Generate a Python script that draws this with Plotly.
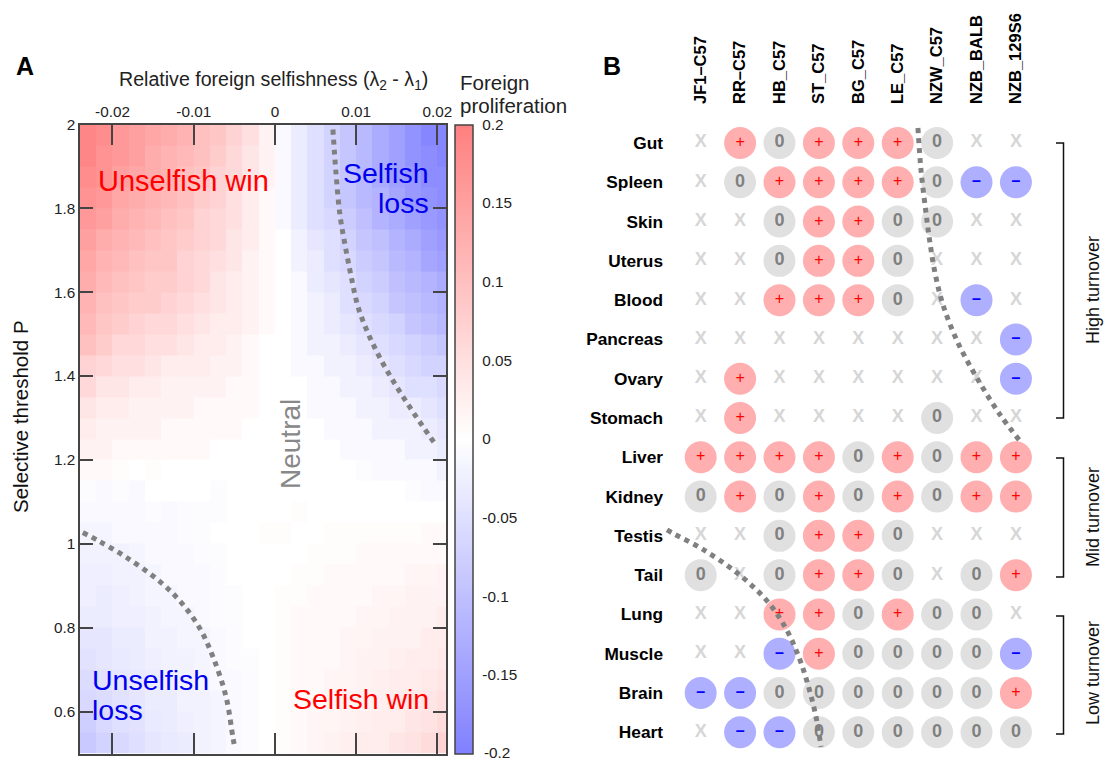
import plotly.graph_objects as go

W, H = 1106, 760
FONT = "Liberation Sans"

# Panel A data
lambda_edges = [-0.024, -0.022, -0.020, -0.018, -0.016, -0.014, -0.012, -0.010, -0.008, -0.006, -0.004, -0.002,
                0.0, 0.002, 0.004, 0.006, 0.008, 0.010, 0.012, 0.014, 0.016, 0.018, 0.020, 0.02106]
threshold_centers = [1.975, 1.925, 1.875, 1.825, 1.775, 1.725, 1.675, 1.625, 1.575, 1.525,
                     1.475, 1.425, 1.375, 1.325, 1.275, 1.225, 1.175, 1.125, 1.075, 1.025,
                     0.975, 0.925, 0.875, 0.825, 0.775, 0.725, 0.675, 0.625, 0.575, 0.525]
proliferation = [
    [.19, .18, .16, .15, .14, .13, .12, .10, .09, .07, .05, .02, -.01, -.03, -.05, -.07, -.09, -.11, -.13, -.15, -.17, -.19, -.19],
    [.19, .17, .16, .15, .13, .12, .11, .10, .08, .06, .04, .02, -.01, -.03, -.05, -.07, -.09, -.11, -.13, -.15, -.17, -.18, -.19],
    [.18, .17, .15, .14, .13, .12, .10, .09, .07, .06, .04, .02, -.01, -.03, -.05, -.07, -.09, -.11, -.13, -.15, -.16, -.18, -.18],
    [.17, .16, .14, .13, .12, .11, .10, .08, .07, .05, .03, .01, -.01, -.03, -.05, -.07, -.09, -.11, -.12, -.14, -.16, -.17, -.18],
    [.16, .15, .13, .12, .11, .10, .09, .07, .06, .05, .03, .01, -.01, -.03, -.05, -.06, -.08, -.10, -.12, -.13, -.15, -.16, -.17],
    [.15, .13, .12, .11, .10, .09, .08, .07, .06, .04, .03, .01, 0, -.02, -.04, -.05, -.07, -.09, -.10, -.12, -.13, -.15, -.16],
    [.14, .12, .11, .10, .09, .09, .07, .06, .05, .04, .02, .01, 0, -.02, -.03, -.05, -.06, -.08, -.09, -.11, -.12, -.14, -.15],
    [.13, .11, .10, .09, .08, .08, .07, .06, .04, .03, .02, .01, 0, -.01, -.03, -.04, -.05, -.07, -.08, -.10, -.11, -.12, -.13],
    [.12, .10, .09, .08, .08, .07, .06, .05, .04, .03, .02, .01, 0, -.01, -.02, -.03, -.05, -.06, -.07, -.09, -.10, -.11, -.12],
    [.11, .09, .08, .07, .06, .06, .05, .04, .03, .03, .02, .01, 0, -.01, -.02, -.03, -.04, -.05, -.06, -.07, -.09, -.10, -.11],
    [.10, .08, .06, .06, .05, .05, .04, .03, .03, .02, .01, 0, 0, -.01, -.02, -.02, -.03, -.04, -.05, -.06, -.07, -.08, -.09],
    [.07, .06, .05, .05, .04, .03, .03, .03, .02, .02, .01, 0, 0, -.01, -.01, -.02, -.02, -.03, -.04, -.05, -.06, -.07, -.07],
    [.06, .04, .04, .03, .03, .02, .02, .02, .02, .01, .01, 0, 0, 0, -.01, -.01, -.02, -.02, -.03, -.04, -.05, -.05, -.06],
    [.04, .03, .03, .02, .02, .02, .02, .01, .01, .01, .01, 0, 0, 0, -.01, -.01, -.01, -.02, -.02, -.03, -.03, -.04, -.05],
    [.03, .02, .02, .02, .02, .01, .01, .01, .01, .01, 0, 0, 0, 0, 0, -.01, -.01, -.01, -.02, -.02, -.02, -.03, -.04],
    [.02, .02, .01, .01, .01, .01, .01, .01, 0, 0, 0, 0, 0, 0, 0, 0, -.01, -.01, -.01, -.01, -.02, -.02, -.03],
    [.01, .01, .005, 0, .005, 0, 0, 0, 0, 0, 0, 0, 0, 0, 0, 0, 0, -.005, -.01, -.01, -.01, -.01, -.02],
    [-.005, -.01, -.005, -.01, 0, 0, 0, 0, -.005, 0, 0, 0, 0, 0, 0, 0, 0, 0, 0, 0, -.005, -.01, -.01],
    [-.01, -.01, -.01, -.01, -.005, -.01, -.005, -.005, -.005, 0, 0, 0, 0, .005, 0, 0, 0, 0, 0, 0, 0, 0, 0],
    [-.015, -.015, -.01, -.01, -.01, -.01, -.005, -.005, 0, 0, 0, .005, .005, 0, 0, .005, .005, .005, .005, .005, .005, .01, .01],
    [-.02, -.02, -.02, -.015, -.01, -.01, -.01, -.005, -.005, 0, 0, 0, 0, 0, .005, .005, .005, .01, .01, .01, .01, .01, .01],
    [-.025, -.025, -.02, -.02, -.015, -.01, -.01, -.01, -.005, 0, 0, 0, 0, .005, .005, .01, .01, .01, .01, .01, .015, .015, .02],
    [-.025, -.03, -.025, -.02, -.015, -.015, -.01, -.01, -.005, -.005, 0, 0, .005, .005, .01, .01, .01, .01, .015, .015, .02, .02, .02],
    [-.03, -.03, -.025, -.025, -.02, -.015, -.015, -.01, -.005, -.005, 0, 0, .005, .01, .01, .01, .01, .015, .015, .02, .02, .02, .03],
    [-.04, -.04, -.03, -.03, -.02, -.02, -.015, -.015, -.01, -.005, 0, 0, .005, .01, .01, .01, .015, .015, .02, .02, .02, .03, .03],
    [-.045, -.04, -.035, -.03, -.025, -.02, -.02, -.015, -.01, -.005, -.005, 0, .005, .01, .01, .01, .015, .02, .02, .025, .03, .03, .035],
    [-.055, -.045, -.04, -.035, -.03, -.025, -.02, -.015, -.01, -.01, -.005, 0, .005, .01, .01, .015, .015, .02, .025, .03, .03, .035, .04],
    [-.06, -.055, -.045, -.04, -.03, -.03, -.02, -.02, -.015, -.01, -.005, 0, .005, .01, .01, .015, .02, .02, .025, .03, .035, .04, .05],
    [-.075, -.06, -.05, -.045, -.035, -.03, -.025, -.02, -.015, -.01, -.005, 0, .005, .01, .015, .015, .02, .025, .03, .03, .04, .045, .055],
    [-.085, -.07, -.06, -.05, -.04, -.035, -.03, -.02, -.015, -.01, -.005, 0, .005, .01, .015, .02, .025, .03, .03, .04, .045, .055, .07],
]
x_ticks = [-0.02, -0.01, 0, 0.01, 0.02]
x_tick_labels = ["-0.02", "-0.01", "0", "0.01", "0.02"]
y_ticks = [0.6, 0.8, 1.0, 1.2, 1.4, 1.6, 1.8, 2.0]
y_tick_labels = ["0.6", "0.8", "1", "1.2", "1.4", "1.6", "1.8", "2"]
cbar_ticks = [-0.15, -0.1, -0.05, 0, 0.05, 0.1, 0.15, 0.2]
cbar_labels = ["-0.15", "-0.1", "-0.05", "0", "0.05", "0.1", "0.15", "0.2"]

selfish_loss_x = [.00714, .00751, .0080, .00862, .00936, .01022, .01158, .0133, .01527, .01736, .01958]
selfish_loss_y = [1.988, 1.886, 1.785, 1.714, 1.640, 1.566, 1.497, 1.430, 1.366, 1.304, 1.242]
unselfish_loss_x = [-.02365, -.0218, -.01847, -.01416, -.01145, -.00924, -.00764, -.00603, -.00517, -.00493]
unselfish_loss_y = [1.027, 1.008, .970, .910, .858, .798, .731, .636, .538, .512]

# Panel B data
strains = ["JF1\u2013C57", "RR\u2013C57", "HB_C57", "ST_C57", "BG_C57", "LE_C57", "NZW_C57", "NZB_BALB", "NZB_129S6"]
tissues = ["Gut", "Spleen", "Skin", "Uterus", "Blood", "Pancreas", "Ovary", "Stomach",
           "Liver", "Kidney", "Testis", "Tail", "Lung", "Muscle", "Brain", "Heart"]
outcomes = [
    "X+0+++0XX",
    "X0++++0--",
    "XX0++00XX",
    "XX0++0XXX",
    "XX+++0X-X",
    "XXXXXXXX-",
    "X+XXXXXX-",
    "X+XXXX0XX",
    "++++0+0++",
    "0+0+0+0++",
    "XX0++0XXX",
    "0X0++0X0+",
    "XX++0+00X",
    "XX-+0000-",
    "--000000+",
    "X--000000",
]
upper_curve_col = [5.513, 5.591, 5.718, 5.82, 5.947, 6.15, 6.53, 7.04, 7.6, 8.08]
upper_curve_row = [-0.382, 0.687, 1.781, 2.545, 3.308, 4.122, 5.089, 6.031, 6.921, 7.557]
lower_curve_col = [-0.855, -0.678, 0.033, 0.921, 1.683, 2.139, 2.47, 2.723, 2.926, 3.053]
lower_curve_row = [9.847, 9.949, 10.331, 10.941, 11.654, 12.316, 13.028, 13.791, 14.606, 15.369]
turnover_groups = [("High turnover", 143, 418, 290), ("Mid turnover", 458, 577, 517), ("Low turnover", 616, 734, 673)]


def fx(px):
    return px / W


def fy(py):
    return 1 - py / H


PLOT_TOP, PLOT_BOTTOM = 124.5, 753.5

fig = go.Figure()
fig.add_trace(go.Heatmap(
    x=lambda_edges, y=threshold_centers[::-1], z=proliferation[::-1],
    zmin=-0.2, zmax=0.2, zsmooth=False,
    colorscale=[[0, "#8080FF"], [0.5, "#FFFFFF"], [1, "#FF8080"]],
    colorbar=dict(
        x=fx(455), xanchor="left", xpad=0, y=fy(PLOT_BOTTOM), yanchor="bottom", ypad=0,
        lenmode="pixels", len=PLOT_BOTTOM - PLOT_TOP, thicknessmode="pixels", thickness=18,
        tickvals=cbar_ticks, ticktext=cbar_labels, ticks="outside", ticklen=6, tickwidth=1,
        tickcolor="rgba(0,0,0,0)", outlinecolor="#444444", outlinewidth=1.5,
        tickfont=dict(family=FONT, size=15.3, color="#222222"),
    ),
    showlegend=False, xaxis="x", yaxis="y",
))
dot_line = dict(color="#808080", width=5, dash="5px,5px", shape="spline")
for xs, ys in [(selfish_loss_x, selfish_loss_y), (unselfish_loss_x, unselfish_loss_y)]:
    fig.add_trace(go.Scatter(x=xs, y=ys, mode="lines", line=dot_line, showlegend=False, xaxis="x", yaxis="y"))

# Panel B markers
styles = {
    "+": ("#FFAFAF", "+", "#FF0000", 16),
    "0": ("#E0E0E0", "<b>0</b>", "#808080", 18),
    "-": ("#AFAFFF", "<b>\u2013</b>", "#0000FF", 16),
}
for key, (fill, label, colour, size) in styles.items():
    xs, ys = [], []
    for r, row in enumerate(outcomes):
        for c, state in enumerate(row):
            if state == key:
                xs.append(c)
                ys.append(r)
    fig.add_trace(go.Scatter(
        x=xs, y=ys, mode="markers+text", text=[label] * len(xs), textposition="middle center",
        textfont=dict(family=FONT, size=size, color=colour),
        marker=dict(size=32, color=fill, line=dict(width=0)),
        showlegend=False, xaxis="x2", yaxis="y2", cliponaxis=False,
    ))
xs, ys = [], []
for r, row in enumerate(outcomes):
    for c, state in enumerate(row):
        if state == "X":
            xs.append(c)
            ys.append(r)
fig.add_trace(go.Scatter(
    x=xs, y=ys, mode="text", text=["<b>X</b>"] * len(xs), textposition="middle center",
    textfont=dict(family=FONT, size=18, color="#D6D6D6"),
    showlegend=False, xaxis="x2", yaxis="y2", cliponaxis=False,
))
for xs, ys in [(upper_curve_col, upper_curve_row), (lower_curve_col, lower_curve_row)]:
    fig.add_trace(go.Scatter(x=xs, y=ys, mode="lines", line=dot_line, showlegend=False,
                             xaxis="x2", yaxis="y2", cliponaxis=False))


def note(text, x, y, size, color="#000000", xanchor="left", yanchor="middle", angle=0, align="left"):
    return dict(text=text, x=fx(x), y=fy(y), xref="paper", yref="paper", showarrow=False,
                xanchor=xanchor, yanchor=yanchor, align=align, textangle=angle,
                font=dict(family=FONT, size=size, color=color))


annotations = [
    note("<b>A</b>", 14, 66, 25),
    note("<b>B</b>", 601, 66, 25),
    note("Relative foreign selfishness (\u03bb<sub>2</sub> - \u03bb<sub>1</sub>)", 273, 80, 19.6, "#222222", xanchor="center"),
    note("Selective threshold P", 20, 417, 20.5, "#111111", xanchor="center", angle=-90),
    note("Foreign", 458, 83, 20.5, "#222222"),
    note("proliferation", 458, 105, 20.5, "#222222"),
    note("Unselfish win", 183, 181, 29, "#FF0000", xanchor="center"),
    note("Selfish", 431, 173, 28.5, "#0000EE", xanchor="right"),
    note("loss", 431, 203, 28.5, "#0000EE", xanchor="right"),
    note("Unselfish", 90, 680, 28.5, "#0000EE"),
    note("loss", 90, 710, 28.5, "#0000EE"),
    note("Selfish win", 431, 699, 28.5, "#FF0000", xanchor="right"),
    note("Neutral", 290, 444, 28, "#888888", xanchor="center", angle=-90),
    note("-0.2", 482, 752, 15.3, "#222222"),
]
shapes = []
for name, top, bottom, mid in turnover_groups:
    annotations.append(note(name, 1093, mid, 18, "#111111", xanchor="center", angle=-90))
    shapes.append(dict(type="path", xref="paper", yref="paper", line=dict(color="#111111", width=1.5),
                       path=f"M {fx(1056)} {fy(top)} L {fx(1063.5)} {fy(top)} L {fx(1063.5)} {fy(bottom)} L {fx(1056)} {fy(bottom)}"))
for v in cbar_ticks[:-1]:
    py = PLOT_BOTTOM - (v + 0.2) / 0.4 * (PLOT_BOTTOM - PLOT_TOP)
    shapes.append(dict(type="line", xref="paper", yref="paper", x0=fx(455), x1=fx(473), y0=fy(py), y1=fy(py),
                       line=dict(color="#222222", width=1.5)))

axis_font = dict(family=FONT, size=15.3, color="#222222")
fig.update_layout(
    width=W, height=H, margin=dict(l=0, r=0, t=0, b=0, pad=0, autoexpand=False),
    paper_bgcolor="white", plot_bgcolor="white", showlegend=False,
    annotations=annotations, shapes=shapes,
    xaxis=dict(domain=[fx(80), fx(446)], range=[-0.024, 0.02106], side="top", tickvals=x_ticks,
               ticktext=x_tick_labels, ticks="inside", ticklen=21, tickwidth=1.5, tickcolor="#444444",
               showline=True, linecolor="#444444", linewidth=1.5, mirror="ticks", showgrid=False, zeroline=False,
               tickfont=axis_font),
    yaxis=dict(domain=[fy(PLOT_BOTTOM), fy(PLOT_TOP)], range=[0.5, 2], tickvals=y_ticks, ticktext=y_tick_labels,
               ticks="inside", ticklen=13, tickwidth=1.5, tickcolor="#444444",
               showline=True, linecolor="#444444", linewidth=1.5, mirror="ticks", showgrid=False, zeroline=False,
               tickfont=axis_font),
    xaxis2=dict(domain=[fx(664), fx(1050)], range=[-0.931, 8.865], side="top", anchor="y2",
                tickvals=list(range(len(strains))), ticktext=[f"<b>{s}</b>" for s in strains],
                tickangle=-90, ticks="", showgrid=False, zeroline=False, showline=False,
                tickfont=dict(family=FONT, size=16.5, color="#000000")),
    yaxis2=dict(domain=[fy(PLOT_BOTTOM), fy(105)], range=[15.54, -0.967], anchor="x2",
                tickvals=list(range(len(tissues))), ticktext=[f"<b>{t}</b>" for t in tissues],
                ticks="", showgrid=False, zeroline=False, showline=False,
                tickfont=dict(family=FONT, size=17.3, color="#000000")),
)
fig.write_html("out.html", config={"displayModeBar": False}, post_script="document.body.style.margin='0';")
